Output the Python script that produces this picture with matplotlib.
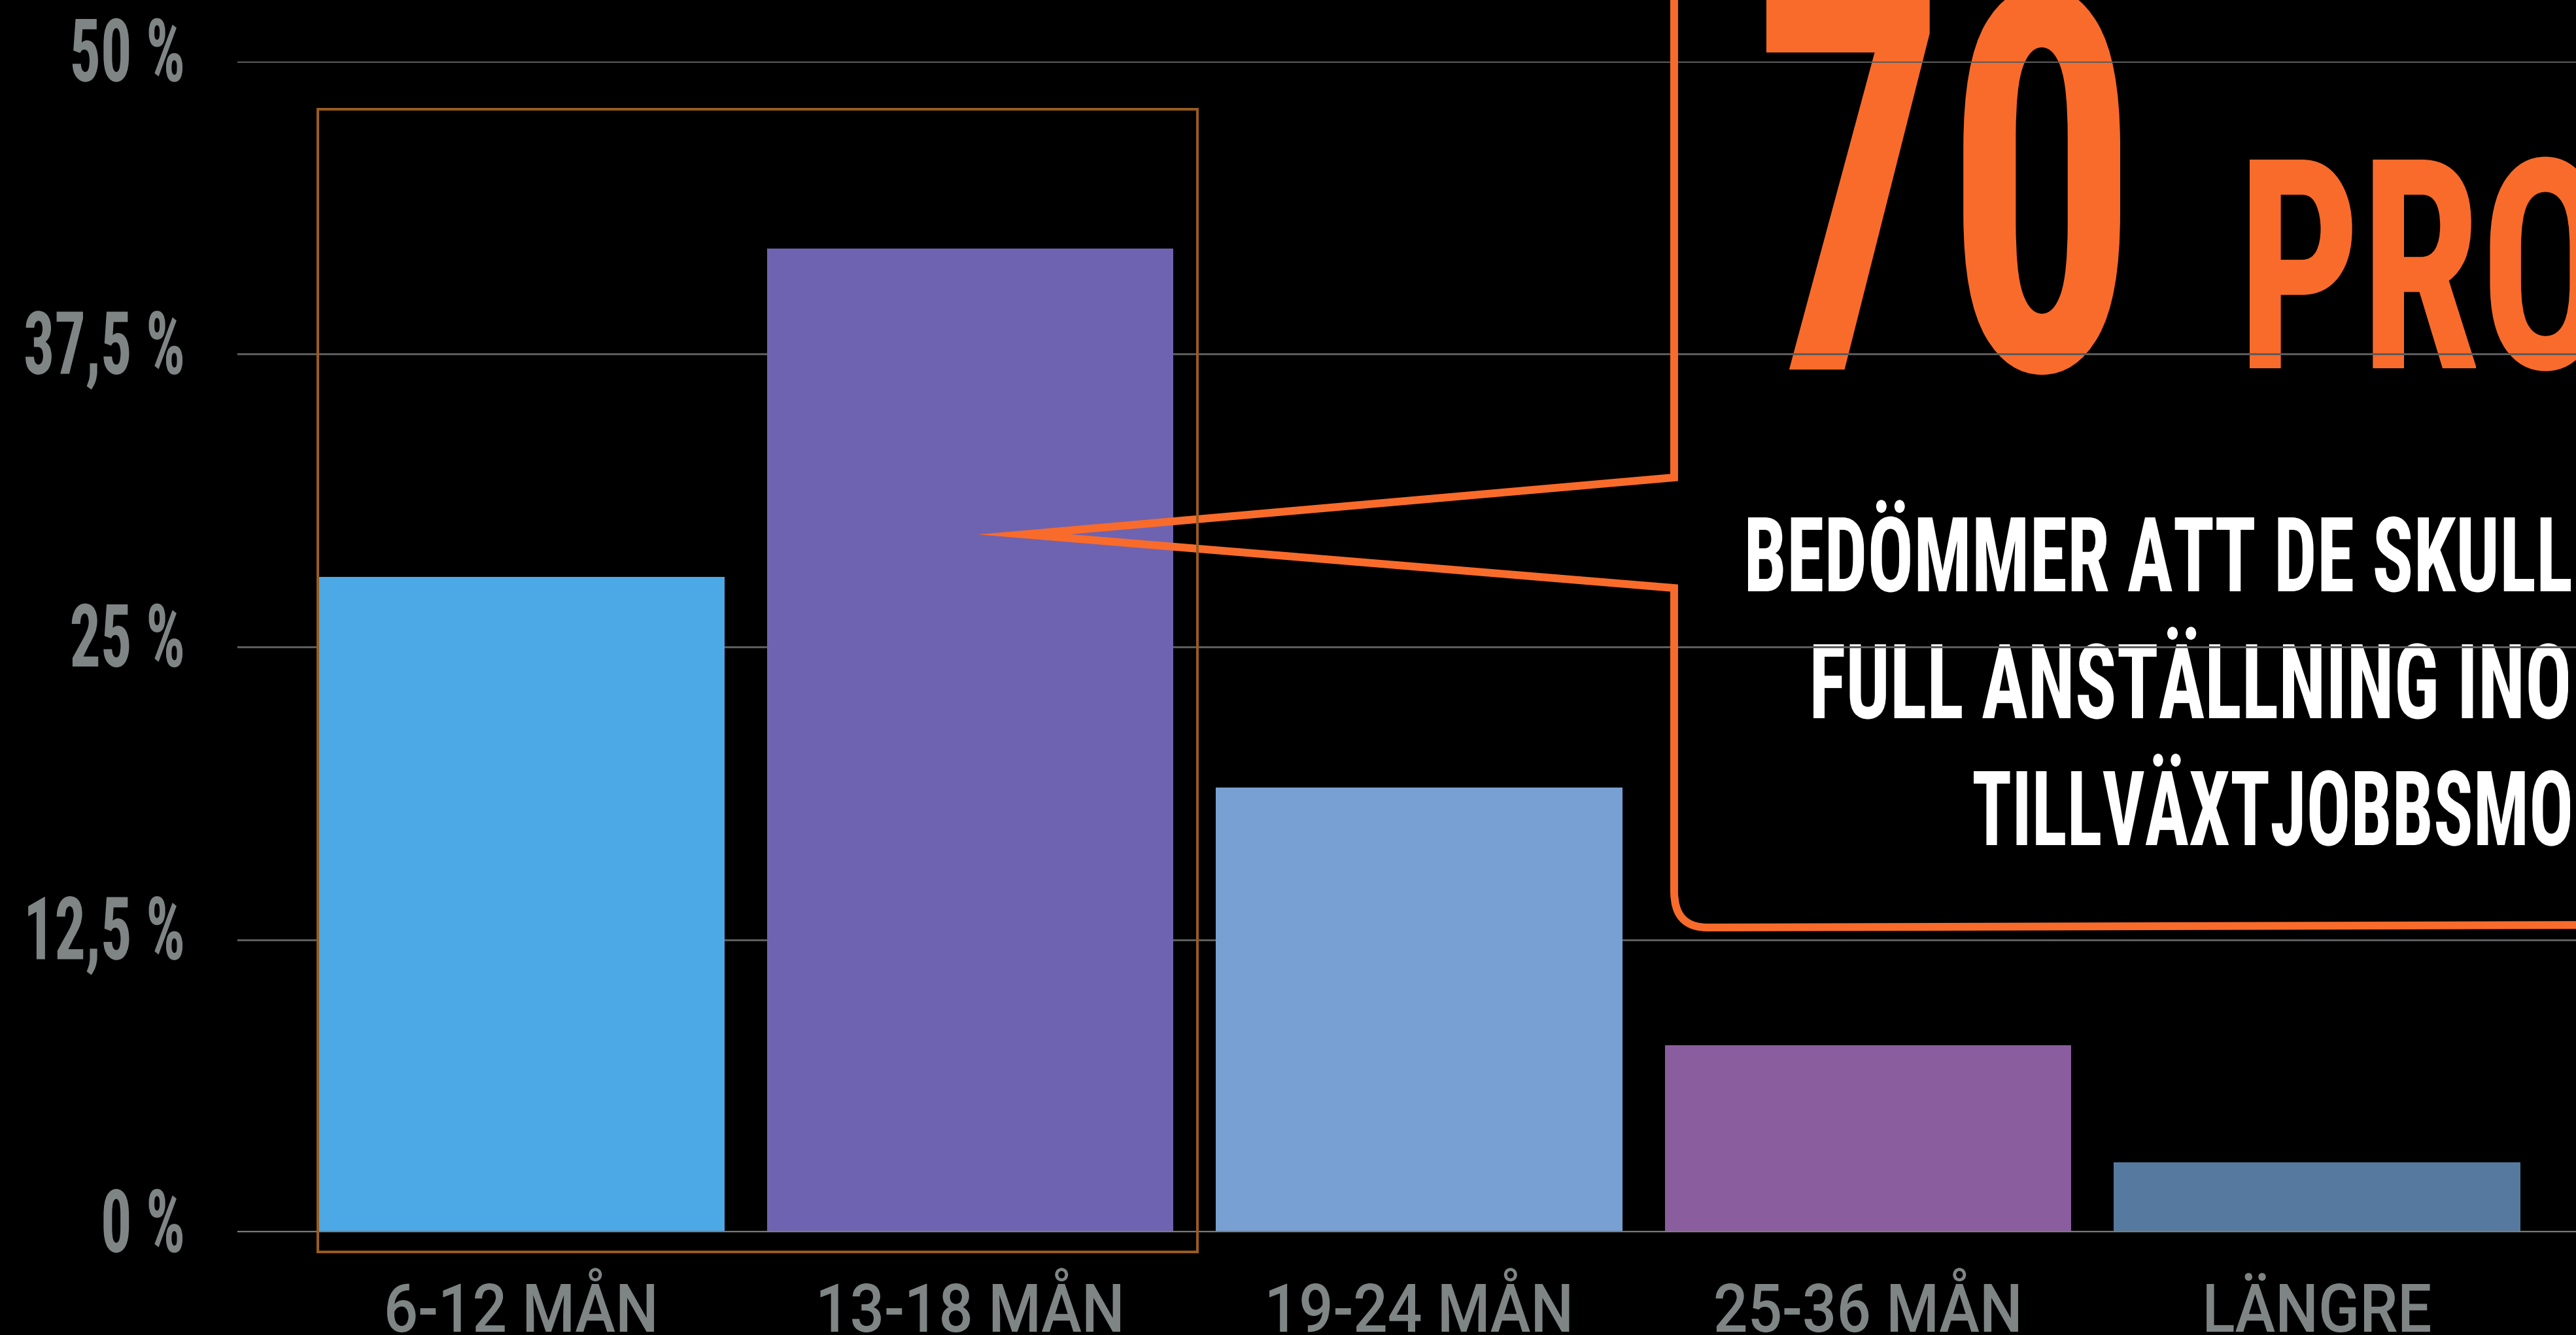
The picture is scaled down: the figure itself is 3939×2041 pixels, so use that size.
import os
import matplotlib
matplotlib.use('Agg')
import matplotlib.pyplot as plt
from matplotlib import font_manager as fm
from matplotlib.transforms import ScaledTranslation, Affine2D, blended_transform_factory
from matplotlib.patches import Rectangle, PathPatch
from matplotlib.path import Path
from matplotlib.textpath import TextPath
from matplotlib.patheffects import AbstractPathEffect

# ---------------- data ----------------
categories = ['6-12 MÅN', '13-18 MÅN', '19-24 MÅN', '25-36 MÅN', 'LÄNGRE']
values = [28, 42, 19, 8, 3]
bar_colors = ['#4DA9E6', '#6E63B0', '#78A0D2', '#8A5D9E', '#56799F']
yticks = [0, 12.5, 25, 37.5, 50]
ytick_labels = ['0 %', '12,5 %', '25 %', '37,5 %', '50 %']
highlight_number = '70'
highlight_word = 'PROCENT'
callout_lines = ['BEDÖMMER ATT DE SKULLE HA FÅTT EN',
                 'FULL ANSTÄLLNING INOM 18 MÅNADER',
                 'TILLVÄXTJOBBSMODELLEN']

W, H, DPI = 3939, 2041, 100

# ---------------- fonts ----------------
_files = {}
for _f in fm.fontManager.ttflist:
    _files[os.path.splitext(os.path.basename(_f.fname))[0]] = _f.fname


def pick(prefs, family='DejaVu Sans', weight='bold'):
    for p in prefs:
        if p in _files:
            return fm.FontProperties(fname=_files[p])
    return fm.FontProperties(family=family, weight=weight)


FP_COND = pick(['RobotoCondensed-Bold', 'NotoSans-ExtraCondensedBold', 'NotoSans-CondensedBold',
                'LiberationSansNarrow-Bold', 'DejaVuSansCondensed-Bold'])
FP_REG = pick(['Roboto-Medium', 'Roboto-Regular', 'LiberationSans-Regular', 'DejaVuSans'],
              weight='normal')


def cap_ratio(fp):
    return TextPath((0, 0), 'H', size=100, prop=fp).get_extents().height / 100.0


def fsize(cap_px, fp):
    return cap_px * 72.0 / (DPI * cap_ratio(fp))


def ink(text, fs, fp):
    e = TextPath((0, 0), text, size=fs, prop=fp).get_extents()
    k = DPI / 72.0
    return e.xmin * k, e.width * k


class Squeeze(AbstractPathEffect):
    """Horizontally condense the glyph outlines of a text."""
    def __init__(self, sx, anchor='origin'):
        super().__init__()
        self.sx = sx
        self.anchor = anchor

    def draw_path(self, renderer, gc, tpath, affine, rgbFace=None):
        if self.anchor == 'origin' or len(tpath.vertices) == 0:
            a = affine.transform([[0.0, 0.0]])[0][0]
        else:
            xs = affine.transform(tpath.vertices)[:, 0]
            a = xs.max() if self.anchor == 'right' else 0.5 * (xs.min() + xs.max())
        tr = affine + Affine2D().translate(-a, 0).scale(self.sx, 1).translate(a, 0)
        renderer.draw_path(gc, tpath, tr, rgbFace)


def fx(x):
    return x / W


def fy(y):
    return 1 - y / H


# ---------------- figure ----------------
fig = plt.figure(figsize=(W / DPI, H / DPI), dpi=DPI, facecolor='black')
ax_left, ax_right, ax_zero, ax_top = 363, W, 1884, 94
ax = fig.add_axes([ax_left / W, (H - ax_zero) / H, (ax_right - ax_left) / W, (ax_zero - ax_top) / H])
ax.set_facecolor('black')
ax.set_ylim(0, 50)
centre0, step = 797.0, 686.5
ax.set_xlim((ax_left - centre0) / step, (ax_right - centre0) / step)

x = list(range(len(categories)))
bw = 0.906
ax.bar(x, values, width=bw, color=bar_colors, zorder=3)

ax.set_yticks(yticks)
ax.set_yticklabels([])
ax.set_xticks(x)
ax.set_xticklabels([])
ax.tick_params(length=0)
ax.set_axisbelow('line')
ax.yaxis.grid(True, color='#5c5c5c', linewidth=2.2)
for s in ax.spines.values():
    s.set_visible(False)
ax.axhline(0, color='#7c7c7c', linewidth=3.2, zorder=3.5)

# y tick labels (condensed), ink right edge at x = 279 px
yfs = fsize(95, FP_COND)
_, w_ref = ink('37,5 %', yfs, FP_COND)
ysx = 240.0 / w_ref
ytrans = blended_transform_factory(fig.transFigure, ax.transData) + \
    ScaledTranslation(0, -30 / DPI, fig.dpi_scale_trans)
for v, lab in zip(yticks, ytick_labels):
    xm, wd = ink(lab, yfs, FP_COND)
    origin = 279 - ysx * (xm + wd)
    ax.text(fx(origin), v, lab, transform=ytrans, ha='left', va='baseline',
            fontproperties=FP_COND, fontsize=yfs, color='#7f8585', clip_on=False,
            path_effects=[Squeeze(ysx, 'origin')])

# x tick labels
xfs = fsize(73, FP_REG)
_, w_ref = ink('6-12 MÅN', xfs, FP_REG)
xsx = 408.0 / w_ref
xtrans = ax.get_xaxis_transform() + ScaledTranslation(0, -152 / DPI, fig.dpi_scale_trans)
for xi, lab in zip(x, categories):
    ax.text(xi, 0, lab, transform=xtrans, ha='center', va='baseline',
            fontproperties=FP_REG, fontsize=xfs, color='#7f8585', clip_on=False,
            path_effects=[Squeeze(xsx, 'center')])

# highlight box around first two bars
box_left = x[0] - bw / 2
box_right = (1831 - centre0) / step
box = Rectangle((box_left, -0.84), box_right - box_left, 48.8,
                fill=False, edgecolor='#9A5B1E', linewidth=2.9, zorder=5, clip_on=False)
ax.add_patch(box)

# callout frame (figure pixel coordinates)
verts = [(2560, -40), (2560, 730), (1566, 817), (2560, 899), (2560, 1363),
         (2560, 1418), (2611, 1418), (3990, 1414)]
codes = [Path.MOVETO, Path.LINETO, Path.LINETO, Path.LINETO, Path.LINETO,
         Path.CURVE3, Path.CURVE3, Path.LINETO]
path = Path([(fx(a), fy(b)) for a, b in verts], codes)
ax.add_patch(PathPatch(path, transform=fig.transFigure, fill=False,
                       edgecolor='#F96B2B', linewidth=8.6, joinstyle='miter',
                       capstyle='butt', zorder=4, clip_on=False))


def place(text, left_px, base_px, cap_px, color, sx_ref, sx_target, z=1):
    fs = fsize(cap_px, FP_COND)
    _, wr = ink(sx_ref, fs, FP_COND)
    sx = sx_target / wr
    off, _ = ink(text, fs, FP_COND)
    ax.text(fx(left_px - sx * off), fy(base_px), text, transform=fig.transFigure,
            ha='left', va='baseline', fontproperties=FP_COND, fontsize=fs,
            color=color, zorder=z, clip_on=False,
            path_effects=[Squeeze(sx, 'origin')])


place(highlight_number, 2701, 565, 578, '#F96B2B', '70', 541)
place(highlight_word, 3440, 563, 319, '#F96B2B', 'PR', 346)
place(callout_lines[0], 2673, 904, 113, 'white', 'BEDÖMMER ATT DE SKULL', 1258)
place(callout_lines[1], 2773, 1098, 113, 'white', 'FULL ANSTÄLLNING INO', 1154)
place(callout_lines[2], 3018, 1292, 113, 'white', 'TILLVÄXTJOBBSMO', 912)

fig.savefig('out.png', dpi=DPI, facecolor='black')
